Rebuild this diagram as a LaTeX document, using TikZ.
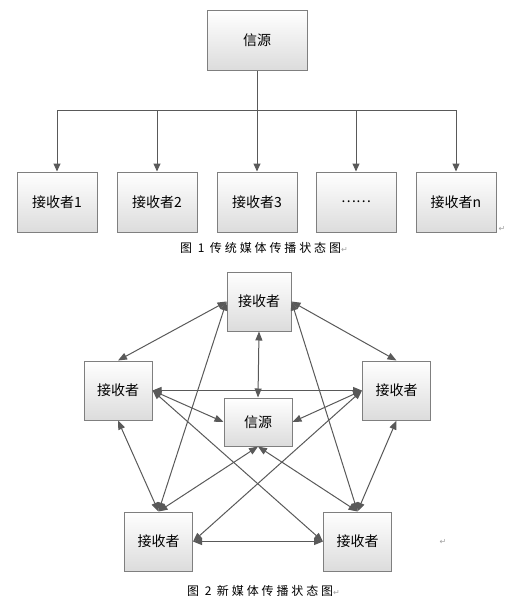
\documentclass[tikz,border=0pt]{standalone}
\usepackage{fontspec}
\setmainfont{Noto Sans CJK SC}
\newfontfamily\capfont[LetterSpace=24]{Noto Sans CJK SC}
\newfontfamily\markfont{DejaVu Sans}
\usetikzlibrary{arrows.meta}
\definecolor{linegray}{HTML}{595959}
\definecolor{boxline}{HTML}{7F7F7F}
\definecolor{boxshade}{HTML}{DCDCDC}
\definecolor{markgray}{HTML}{A0A0A0}
\tikzstyle{box}=[draw=boxline, line width=1pt, top color=white, bottom color=boxshade, inner sep=0pt, font=\fontsize{14}{14}\selectfont]
\tikzstyle{line}=[draw, linegray, line width=1pt]
\tikzstyle{edge}=[line, -{Triangle[length=8pt,width=7pt]}]
\tikzstyle{twoway}=[line, {Triangle[length=9pt,width=7pt]}-{Triangle[length=9pt,width=7pt]}]
\tikzstyle{caption}=[anchor=west, inner sep=0pt, font=\capfont\fontsize{12}{12}\selectfont]
\tikzstyle{pmark}=[inner sep=0pt, markgray, font=\markfont\fontsize{8}{8}\selectfont]

\begin{document}
\begin{tikzpicture}[x=1pt,y=-1pt]
    \useasboundingbox (0,0) rectangle (512,603);

    % Fig 1: one source, many receivers
    \node[box, minimum width=100pt, minimum height=60pt] (src) at (257,40) {信源};

    \foreach \x/\name/\txt in {57/r1/接收者1, 157/r2/接收者2, 257/r3/接收者3, 356/r4/⋯⋯, 456/rn/接收者n}
        \node[box, minimum width=80pt, minimum height=60pt] (\name) at (\x,202) {\txt};

    \coordinate (bus) at (257,110);
    \path[line] (src.south) -- (bus);
    \path[line] (bus -| r1) -- (bus -| rn);
    \foreach \name in {r1,r2,r3,r4,rn}
        \path[edge] (bus -| \name) -- (\name.north);

    \node[pmark] (m1) at (502,229) {↵};
    \node[caption] (cap1) at (180,248) {图 1 传统媒体传播状态图{\markfont\color{markgray}\fontsize{8}{8}\selectfont↵}};

    % Fig 2: everyone talks to everyone
    \node[box, minimum width=64pt, minimum height=59pt] (rt) at (259,301.5) {接收者};
    \node[box, minimum width=68pt, minimum height=48pt] (s2) at (258,422) {信源};
    \foreach \x/\y/\name in {118/390.5/rl, 396.5/390.5/rr, 158.5/541.5/rbl, 357.5/541.5/rbr}
        \node[box, minimum width=68pt, minimum height=59pt] (\name) at (\x,\y) {接收者};

    \foreach \source/\dest in {rt.west/rl.north, rt.west/rbl.north, rt.east/rr.north, rt.east/rbr.north,
                               rt.south/s2.north, rl.east/rr.west, rl.east/s2.west, rr.west/s2.east,
                               rl.east/rbr.west, rr.west/rbl.east, rl.south/rbl.north, rr.south/rbr.north,
                               s2.south/rbl.north, s2.south/rbr.north, rbl.east/rbr.west}
        \path[twoway] (\source) -- (\dest);

    \node[pmark] (m2) at (443,542) {↵};
    \node[caption] (cap2) at (187,591) {图 2 新媒体传播状态图{\markfont\color{markgray}\fontsize{8}{8}\selectfont↵}};

\end{tikzpicture}
\end{document}
